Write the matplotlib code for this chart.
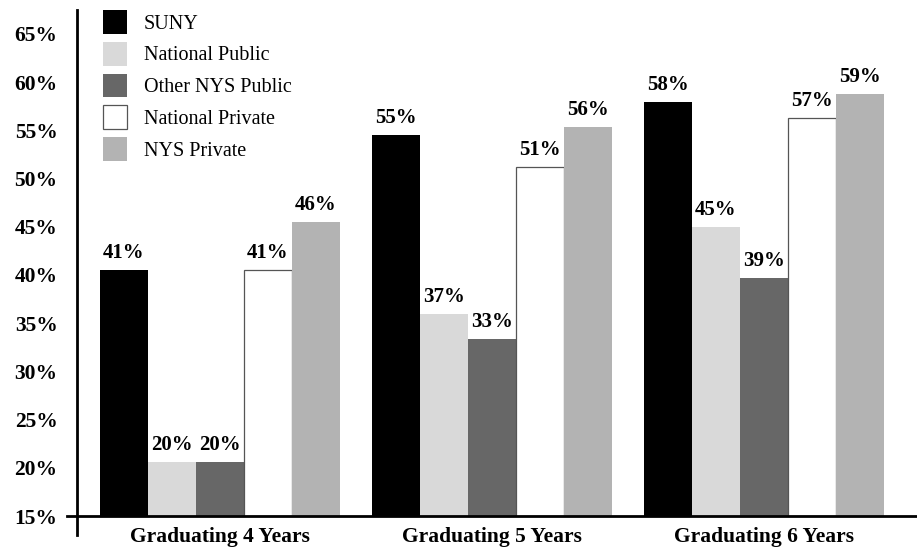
import matplotlib
matplotlib.use("Agg")
import matplotlib.pyplot as plt
import numpy as np
from matplotlib.lines import Line2D

categories = ["Graduating 4 Years", "Graduating 5 Years", "Graduating 6 Years"]
series = ["SUNY", "National Public", "Other NYS Public", "National Private", "NYS Private"]
colors = ["#000000", "#d9d9d9", "#676767", "#ffffff", "#b3b3b3"]
# bar heights (percent)
values = {
    "SUNY":             [40.5, 54.5, 57.9],
    "National Public":  [20.6, 36.0, 45.0],
    "Other NYS Public": [20.6, 33.4, 39.7],
    "National Private": [40.5, 51.2, 56.3],
    "NYS Private":      [45.5, 55.4, 58.8],
}
# printed labels
labels = {
    "SUNY":             [41, 55, 58],
    "National Public":  [20, 37, 45],
    "Other NYS Public": [20, 33, 39],
    "National Private": [41, 51, 57],
    "NYS Private":      [46, 56, 59],
}
yticks = [15, 20, 25, 30, 35, 40, 45, 50, 55, 60, 65]

plt.rcParams["font.family"] = ["Liberation Serif", "DejaVu Serif"]

W, H = 917, 552
fig = plt.figure(figsize=(W / 100, H / 100), dpi=100)
ax = fig.add_axes([77 / W, 1 - 516 / H, (W - 77) / W, (516 - 10) / H])

ymin = 15
ymax = 15 + (516 - 10) / 9.64
ax.set_ylim(ymin, ymax)
ax.set_xlim(-143 / 272, -143 / 272 + (W - 77) / 272)

width = 48 / 272
x = np.arange(len(categories))
n = len(series)
for i, s in enumerate(series):
    pos = x + (i - (n - 1) / 2) * width
    v = np.array(values[s])
    ec = "#555555" if colors[i] == "#ffffff" else colors[i]
    lw = 0.9 if colors[i] == "#ffffff" else 0
    ax.bar(pos, v - ymin, bottom=ymin, width=width, color=colors[i],
           edgecolor=ec, linewidth=lw, label=s, zorder=2)
    for px, vv, lab in zip(pos, v, labels[s]):
        ax.annotate(f"{lab}%", (px, vv), xytext=(0, 5), textcoords="offset points",
                    ha="center", va="bottom", fontsize=15, fontweight="bold")

for sp in ax.spines.values():
    sp.set_visible(False)

# axis lines
ax.add_line(Line2D([0, 0], [-19 / 506, 1], transform=ax.transAxes, color="black",
                   lw=2, clip_on=False, zorder=3))
ax.add_line(Line2D([-10 / 840, 1], [0, 0], transform=ax.transAxes, color="black",
                   lw=2, clip_on=False, zorder=3))

ax.set_yticks(yticks)
ax.set_yticklabels([f"{t}%" for t in yticks], fontsize=15.5, fontweight="bold")
ax.tick_params(axis="y", length=0, pad=14)
ax.set_xticks(x)
ax.set_xticklabels(categories, fontsize=15.5, fontweight="bold")
ax.tick_params(axis="x", length=0, pad=8)

fs = 14.5
fpx = fs * 100 / 72
ax.legend(loc="upper left", bbox_to_anchor=(103 / W, 1 - 10 / H),
          bbox_transform=fig.transFigure, frameon=False, fontsize=fs,
          handlelength=24 / fpx, handleheight=29 / fpx,
          labelspacing=8 / fpx, handletextpad=17 / fpx,
          borderpad=0, borderaxespad=0)

fig.savefig("out.png", dpi=100)
